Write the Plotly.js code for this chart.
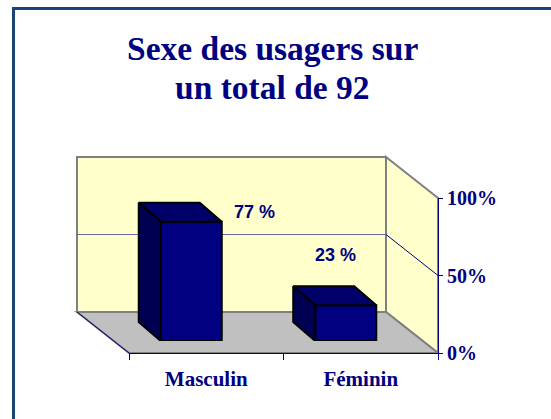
<!DOCTYPE html>
<html>
<head>
<meta charset="utf-8">
<script src="https://cdn.plot.ly/plotly-3.0.1.min.js"></script>
<style>html,body{margin:0;padding:0;background:#fff;}#chart{width:551px;height:419px;}</style>
</head>
<body>
<div id="chart"></div>
<script>
// ---- data ----
const categories = ['Masculin', 'Féminin'];
const values = [77, 23];
const yTickVals = [0, 50, 100];
const titleLines = ['Sexe des usagers sur', 'un total de 92'];

// ---- geometry / style (pixels) ----
const W = 551, H = 419;
const px = x => x / W;
const py = y => 1 - y / H;
const front = { x0: 129, x1: 438, yb: 353, yt: 198 };   // front plane
const depth = { dx: 52, dy: 41 };                        // full depth offset
const barOff = { dx: 15, dy: 12 };                       // bar front face offset
const barDepth = { dx: 22, dy: 19 };                     // bar depth
const barWidth = 0.395;
const labelShift = [[63, 10], [-10, 50]];
const titleBaselines = [61, 100];
const NAVY = '#000080';
const FRAME = '#1C4577';

const back = { x0: front.x0 - depth.dx, x1: front.x1 - depth.dx, yb: front.yb - depth.dy, yt: front.yt - depth.dy };
const unitX = (front.x1 - front.x0) / 2;      // px per category unit
const unitY = (front.yb - front.yt) / 100;    // px per percent
const ox = -barDepth.dx / unitX;
const oy = barDepth.dy / unitY;

const traces = [];
// invisible trace registering the categories on the front axis
traces.push({ type: 'scatter', x: categories, y: [0, 0], mode: 'markers', marker: { opacity: 0 },
  hoverinfo: 'skip', showlegend: false, xaxis: 'x', yaxis: 'y' });

const pos = categories.map((c, i) => i);
// front faces of bars
traces.push({ type: 'bar', x: pos, y: values, width: barWidth, xaxis: 'x2', yaxis: 'y2',
  marker: { color: NAVY, line: { color: '#000000', width: 2 } }, showlegend: false, hoverinfo: 'skip' });
// top & side faces
values.forEach((v, i) => {
  const l = i - barWidth / 2, r = i + barWidth / 2;
  traces.push({ type: 'scatter', mode: 'lines', xaxis: 'x2', yaxis: 'y2', showlegend: false, hoverinfo: 'skip',
    x: [l, r, r + ox, l + ox, l], y: [v, v, v + oy, v + oy, v], fill: 'toself', fillcolor: '#000068',
    line: { color: '#000000', width: 2 } });
  traces.push({ type: 'scatter', mode: 'lines', xaxis: 'x2', yaxis: 'y2', showlegend: false, hoverinfo: 'skip',
    x: [l, l + ox, l + ox, l, l], y: [0, oy, v + oy, v, 0], fill: 'toself', fillcolor: '#000052',
    line: { color: '#000000', width: 2 } });
});

const shapes = [
  // outer frame (top and left edges) as filled bands
  { type: 'rect', xref: 'paper', yref: 'paper', x0: px(12), y0: py(7), x1: px(W), y1: py(10),
    fillcolor: FRAME, line: { width: 0 }, layer: 'above' },
  { type: 'rect', xref: 'paper', yref: 'paper', x0: px(12), y0: py(7), x1: px(15), y1: py(H),
    fillcolor: FRAME, line: { width: 0 }, layer: 'above' },
  // back wall
  { type: 'rect', xref: 'paper', yref: 'paper', x0: px(back.x0), x1: px(back.x1), y0: py(back.yb), y1: py(back.yt),
    fillcolor: '#FFFFCC', line: { color: '#808080', width: 2 }, layer: 'below' },
  // side wall
  { type: 'path', xref: 'paper', yref: 'paper', layer: 'below',
    path: `M${px(back.x1)},${py(back.yt)} L${px(front.x1)},${py(front.yt)} L${px(front.x1)},${py(front.yb)} L${px(back.x1)},${py(back.yb)} Z`,
    fillcolor: '#FFFFCC', line: { color: '#808080', width: 2 } },
  // floor
  { type: 'path', xref: 'paper', yref: 'paper', layer: 'below',
    path: `M${px(back.x0)},${py(back.yb)} L${px(back.x1)},${py(back.yb)} L${px(front.x1)},${py(front.yb)} L${px(front.x0)},${py(front.yb)} Z`,
    fillcolor: '#C0C0C0', line: { color: '#808080', width: 2 } },
  // left floor edge
  { type: 'line', xref: 'paper', yref: 'paper', layer: 'below', x0: px(back.x0), y0: py(back.yb), x1: px(front.x0), y1: py(front.yb),
    line: { color: NAVY, width: 1 } },
];
// gridlines at tick values (except 0 / 100)
yTickVals.filter(t => t > 0 && t < 100).forEach(t => {
  const yb = back.yb - t * unitY, yf = front.yb - t * unitY;
  shapes.push({ type: 'line', xref: 'paper', yref: 'paper', layer: 'below', x0: px(back.x0), x1: px(back.x1), y0: py(yb), y1: py(yb),
    line: { color: '#6A6AA8', width: 1.2 } });
  shapes.push({ type: 'line', xref: 'paper', yref: 'paper', layer: 'below', x0: px(back.x1), x1: px(front.x1), y0: py(yb), y1: py(yf),
    line: { color: NAVY, width: 1 } });
});

const serif = 'Liberation Serif';
const annotations = values.map((v, i) => ({
  xref: 'x2', yref: 'y2', x: i, y: v, text: `<b>${v} %</b>`, showarrow: false,
  xshift: labelShift[i][0], yshift: labelShift[i][1],
  font: { family: 'Liberation Sans', size: 18, color: NAVY }
}));
titleLines.forEach((t, k) => {
  annotations.push({
    xref: 'paper', yref: 'paper', x: px(272), y: py(titleBaselines[k] + 8), xanchor: 'center', yanchor: 'bottom',
    text: `<b>${t}</b>`, showarrow: false, align: 'center',
    font: { family: serif, size: 33.5, color: NAVY }
  });
});

const layout = {
  width: W, height: H, margin: { l: 0, r: 0, t: 0, b: 0 },
  paper_bgcolor: '#ffffff', plot_bgcolor: 'rgba(0,0,0,0)', showlegend: false,
  xaxis: { domain: [px(front.x0), px(front.x1)], type: 'category', categoryarray: categories, range: [-0.5, 1.5],
    tickson: 'boundaries', ticks: 'outside', ticklen: 6, tickcolor: NAVY, showline: true, linecolor: NAVY, linewidth: 1,
    showgrid: false, zeroline: false, anchor: 'y', fixedrange: true, ticklabelstandoff: 7,
    tickfont: { family: serif, size: 21, color: NAVY, weight: 'bold' } },
  yaxis: { domain: [py(front.yb), py(front.yt)], range: [0, 100], side: 'right', anchor: 'x',
    tickvals: yTickVals, ticktext: yTickVals.map(t => t + '%'), ticks: 'outside', ticklen: 4, tickcolor: NAVY,
    showline: true, linecolor: NAVY, linewidth: 1, showgrid: false, zeroline: false, fixedrange: true,
    tickfont: { family: serif, size: 20, color: NAVY, weight: 'bold' } },
  xaxis2: { domain: [px(front.x0 - barOff.dx), px(front.x1 - barOff.dx)], range: [-0.5, 1.5], visible: false,
    anchor: 'y2', fixedrange: true },
  yaxis2: { domain: [py(front.yb - barOff.dy), py(front.yt - barOff.dy)], range: [0, 100], visible: false,
    anchor: 'x2', fixedrange: true },
  shapes: shapes,
  annotations: annotations,
  bargap: 0
};

Plotly.newPlot('chart', traces, layout, { displayModeBar: false, staticPlot: true });
</script>
</body>
</html>
